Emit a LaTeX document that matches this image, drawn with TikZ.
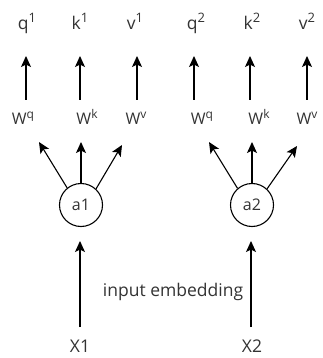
\documentclass[tikz,border=0pt]{standalone}
\usepackage{fontspec}
\setmainfont{Open Sans}
\usetikzlibrary{arrows.meta}

\definecolor{txtgray}{HTML}{333333}

% raised index for the labels: #1 raise, #2 size, #3 text
\newcommand\upidx[3]{\raisebox{#1}{\fontsize{#2}{#2}\selectfont #3}}

\begin{document}
\begin{tikzpicture}[x=1pt,y=-1pt,
  lbl/.style={text=txtgray, inner sep=0pt, anchor=base, font=\fontsize{17.5}{20}\selectfont},
  wlbl/.style={text=txtgray, inner sep=0pt, anchor=base, font=\fontsize{16}{18}\selectfont},
  unit/.style={circle, draw=black, line width=1.1pt, minimum size=43pt, inner sep=0pt,
               text=txtgray, font=\fontsize{16}{18}\selectfont},
  arr/.style={draw=black, line width=1.1pt, -{Stealth[length=11pt,width=10pt,inset=2.5pt]}}]

\useasboundingbox (0,0) rectangle (323,358);

% output vectors
\node[lbl] (q1) at (27,30)  {q\upidx{7.5pt}{13}{1}};
\node[lbl] (k1) at (80,30)  {k\upidx{7.5pt}{13}{1}};
\node[lbl] (v1) at (135,30) {v\upidx{7.5pt}{13}{1}};
\node[lbl] (q2) at (196,30) {q\upidx{7.5pt}{13}{2}};
\node[lbl] (k2) at (252,30) {k\upidx{7.5pt}{13}{2}};
\node[lbl] (v2) at (307,30) {v\upidx{7.5pt}{13}{2}};

% weight matrices
\node[wlbl] (wq1) at (23,125)  {W\upidx{6.5pt}{12}{q}};
\node[wlbl] (wk1) at (87,125)  {W\upidx{6.5pt}{12}{k}};
\node[wlbl] (wv1) at (136,125) {W\upidx{6.5pt}{12}{v}};
\node[wlbl] (wq2) at (202,125) {W\upidx{6.5pt}{12}{q}};
\node[wlbl] (wk2) at (259,125) {W\upidx{6.5pt}{12}{k}};
\node[wlbl] (wv2) at (307,125) {W\upidx{6.5pt}{12}{v}};

% embedded inputs
\node[unit] (a1) at (81,205)  {a1};
\node[unit] (a2) at (252,205) {a2};

% raw inputs and caption
\node[lbl] (x1) at (80,352)  {X1};
\node[lbl] (x2) at (252,352) {X2};
\node[lbl] (emb) at (173,296) {input embedding};

% ends of the vertical W -> q/k/v arrows
\foreach \n/\x in {q1/26, k1/80, v1/137, q2/194, k2/250, v2/307} {
  \coordinate (\n from) at (\x,100);
  \coordinate (\n to)   at (\x,56);
}
\foreach \n in {q1,k1,v1,q2,k2,v2}
  \draw[arr] (\n from) -- (\n to);

% fan-out from a1 and a2
\coordinate (a1q) at (39,142);
\coordinate (a1k) at (81,142);
\coordinate (a1v) at (122,145);
\coordinate (a2q) at (209,142);
\coordinate (a2k) at (252,142);
\coordinate (a2v) at (297,146);
\draw[arr] (a1.129) -- (a1q);
\draw[arr] (a1.90)  -- (a1k);
\draw[arr] (a1.47)  -- (a1v);
\draw[arr] (a2.131) -- (a2q);
\draw[arr] (a2.90)  -- (a2k);
\draw[arr] (a2.47)  -- (a2v);

% embedding arrows
\coordinate (x1s) at (80,327);
\coordinate (x1e) at (80,241);
\coordinate (x2s) at (251,327);
\coordinate (x2e) at (251,241);
\draw[arr] (x1s) -- (x1e);
\draw[arr] (x2s) -- (x2e);

\end{tikzpicture}
\end{document}
